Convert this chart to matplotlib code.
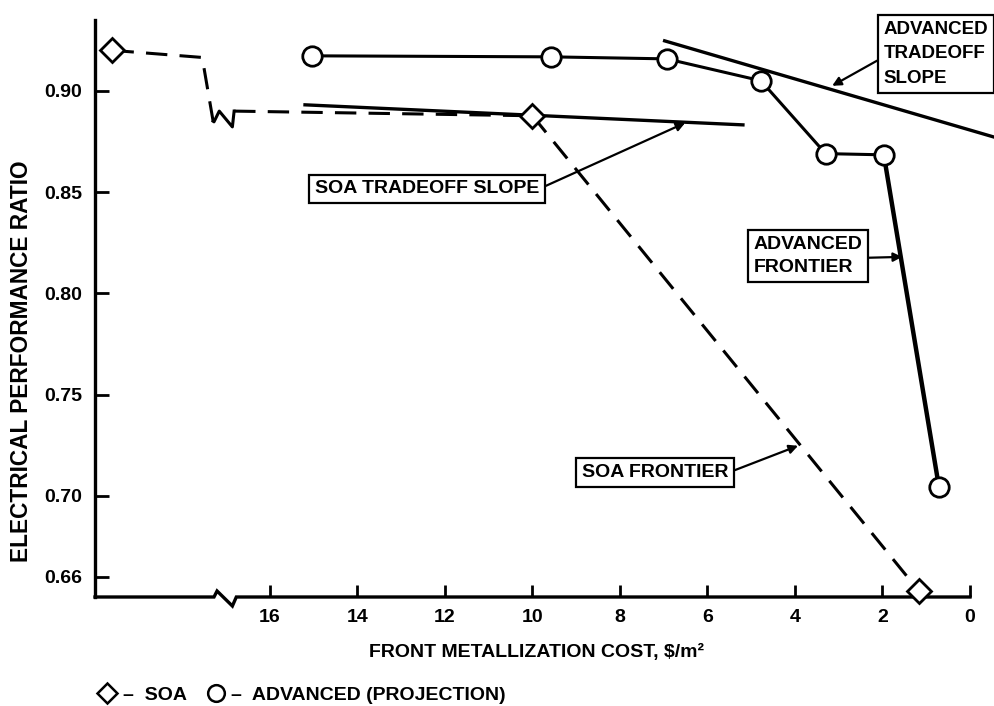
import matplotlib
matplotlib.use("Agg")
import matplotlib.pyplot as plt
from matplotlib.lines import Line2D
import matplotlib.transforms as mtransforms

plt.rcParams['font.family'] = ['Liberation Sans', 'DejaVu Sans']
plt.rcParams['font.weight'] = 'bold'
plt.rcParams['axes.labelweight'] = 'bold'

# ---------------- data ----------------
# SOA (state of the art) frontier points
soa_x = [19.6, 10.0, 1.17]
soa_y = [0.920, 0.8877, 0.653]
# SOA line path through the broken part of the axis
soa_top_x = [19.6, 17.55, 17.30]
soa_top_y = [0.920, 0.9165, 0.8850]
soa_zig_x = [17.30, 17.28, 17.16, 16.86, 16.82]
soa_zig_y = [0.8850, 0.8847, 0.8900, 0.8822, 0.8900]
soa_flat_x = [16.82, 10.0]
soa_flat_y = [0.8900, 0.8877]

# Advanced (projection) frontier points
adv_x = [15.03, 9.57, 6.93, 4.78, 3.30, 1.97, 0.71]
adv_y = [0.9173, 0.9168, 0.9158, 0.9050, 0.8690, 0.8684, 0.7044]

# tradeoff slope lines
soa_slope_x = [15.2, 5.19]
soa_slope_y = [0.8931, 0.8832]
adv_slope_x = [6.98, -0.53]
adv_slope_y = [0.9247, 0.8773]

xticks = [16, 14, 12, 10, 8, 6, 4, 2, 0]
yticks = [0.90, 0.85, 0.80, 0.75, 0.70, 0.66]
ytick_labels = ["0.90", "0.85", "0.80", "0.75", "0.70", "0.66"]

# ---------------- figure ----------------
fig = plt.figure(figsize=(9.95, 7.06), dpi=100)
ax = fig.add_axes([95/995, 1-597/706, (970-95)/995, (597-20)/706])
ax.set_xlim(20.0, 0.0)
ax.set_ylim(0.650, 0.935)

for s in ['top', 'right', 'bottom']:
    ax.spines[s].set_visible(False)
ax.spines['left'].set_linewidth(2.4)

# bottom spine with axis-break zigzag
trans = mtransforms.blended_transform_factory(ax.transData, ax.transAxes)
bx = [20.0, 17.28, 17.21, 16.86, 16.77, 0.0]
by = [0.0, 0.0, 0.0104, -0.0156, 0.0, 0.0]
ax.plot(bx, by, color='black', lw=2.4, transform=trans, clip_on=False,
        solid_joinstyle='miter', zorder=3)

ax.set_xticks(xticks)
ax.set_xticklabels([str(t) for t in xticks])
ax.set_yticks(yticks)
ax.set_yticklabels(ytick_labels)
ax.tick_params(axis='both', direction='in', width=2.0, labelsize=14, pad=9)
ax.tick_params(axis='y', length=10)
ax.tick_params(axis='x', length=9)

# SOA line (dashed)
dash = dict(color='black', lw=2.2, dashes=(7, 4))
ax.plot(soa_top_x, soa_top_y, **dash)
ax.plot(soa_zig_x, soa_zig_y, color='black', lw=2.2)
ax.plot(soa_flat_x, soa_flat_y, **dash)
ax.plot(soa_x[1:], soa_y[1:], **dash)
ax.plot(soa_x, soa_y, ls='none', marker='D', ms=12, mfc='white', mec='black',
        mew=2.0, clip_on=False, zorder=5)

# tradeoff slopes
ax.plot(soa_slope_x, soa_slope_y, color='black', lw=2.4, clip_on=False)
ax.plot(adv_slope_x, adv_slope_y, color='black', lw=2.4, clip_on=False)

# advanced frontier
ax.plot(adv_x[:-1], adv_y[:-1], color='black', lw=2.2, zorder=4)
ax.plot(adv_x[-2:], adv_y[-2:], color='black', lw=3.2, zorder=4)
ax.plot(adv_x, adv_y, ls='none', marker='o', ms=14, mfc='white', mec='black',
        mew=2.0, zorder=5, clip_on=False)

# annotations
box = dict(boxstyle='square,pad=0.3', fc='white', ec='black', lw=1.6)
fs = 14
ax.annotate("SOA TRADEOFF SLOPE", xy=(6.51, 0.8842), xytext=(12.41, 0.8516),
            ha='center', va='center', fontsize=fs, bbox=box,
            arrowprops=dict(arrowstyle='-|>', color='black', lw=1.6,
                            mutation_scale=13, relpos=(1, 0.5), shrinkA=0, shrinkB=0))
ax.annotate("SOA FRONTIER", xy=(3.93, 0.7247), xytext=(7.2, 0.7114),
            ha='center', va='center', fontsize=fs, bbox=box,
            arrowprops=dict(arrowstyle='-|>', color='black', lw=1.6,
                            mutation_scale=13, relpos=(1, 0.5), shrinkA=0, shrinkB=0))
ax.annotate("ADVANCED\nFRONTIER", xy=(1.55, 0.8180), xytext=(3.70, 0.8185),
            ha='center', va='center', fontsize=fs, bbox=box, linespacing=1.5,
            multialignment='left',
            arrowprops=dict(arrowstyle='-|>', color='black', lw=1.6,
                            mutation_scale=13, relpos=(1, 0.45), shrinkA=0, shrinkB=0))
ax.annotate("ADVANCED\nTRADEOFF\nSLOPE", xy=(3.15, 0.9025), xytext=(1.98, 0.9183),
            ha='left', va='center', fontsize=13.5, bbox=box, linespacing=1.6,
            annotation_clip=False,
            arrowprops=dict(arrowstyle='-|>', color='black', lw=1.6,
                            mutation_scale=13, relpos=(0, 0.45), shrinkA=0, shrinkB=0))

# axis labels
ax.set_xlabel("FRONT METALLIZATION COST, $/m²", fontsize=14)
ax.xaxis.set_label_coords((537-95)/875, -(652-597)/577, transform=ax.transAxes)
ax.xaxis.label.set_va('center')
fig.text(22/995, 1-361/706, "ELECTRICAL PERFORMANCE RATIO", rotation=90,
         ha='center', va='center', fontsize=16.3)

# legend (bottom)
h1 = Line2D([], [], ls='none', marker='D', ms=10, mfc='white', mec='black', mew=1.8)
h2 = Line2D([], [], ls='none', marker='o', ms=12, mfc='white', mec='black', mew=1.8)
fig.legend([h1, h2], ["–  SOA", "–  ADVANCED (PROJECTION)"], ncol=2, frameon=False,
           loc='center left', bbox_to_anchor=(80/995, 1-695/706), fontsize=14,
           handletextpad=0.3, columnspacing=1.0, handlelength=1.0)

fig.savefig("out.png", dpi=100)
